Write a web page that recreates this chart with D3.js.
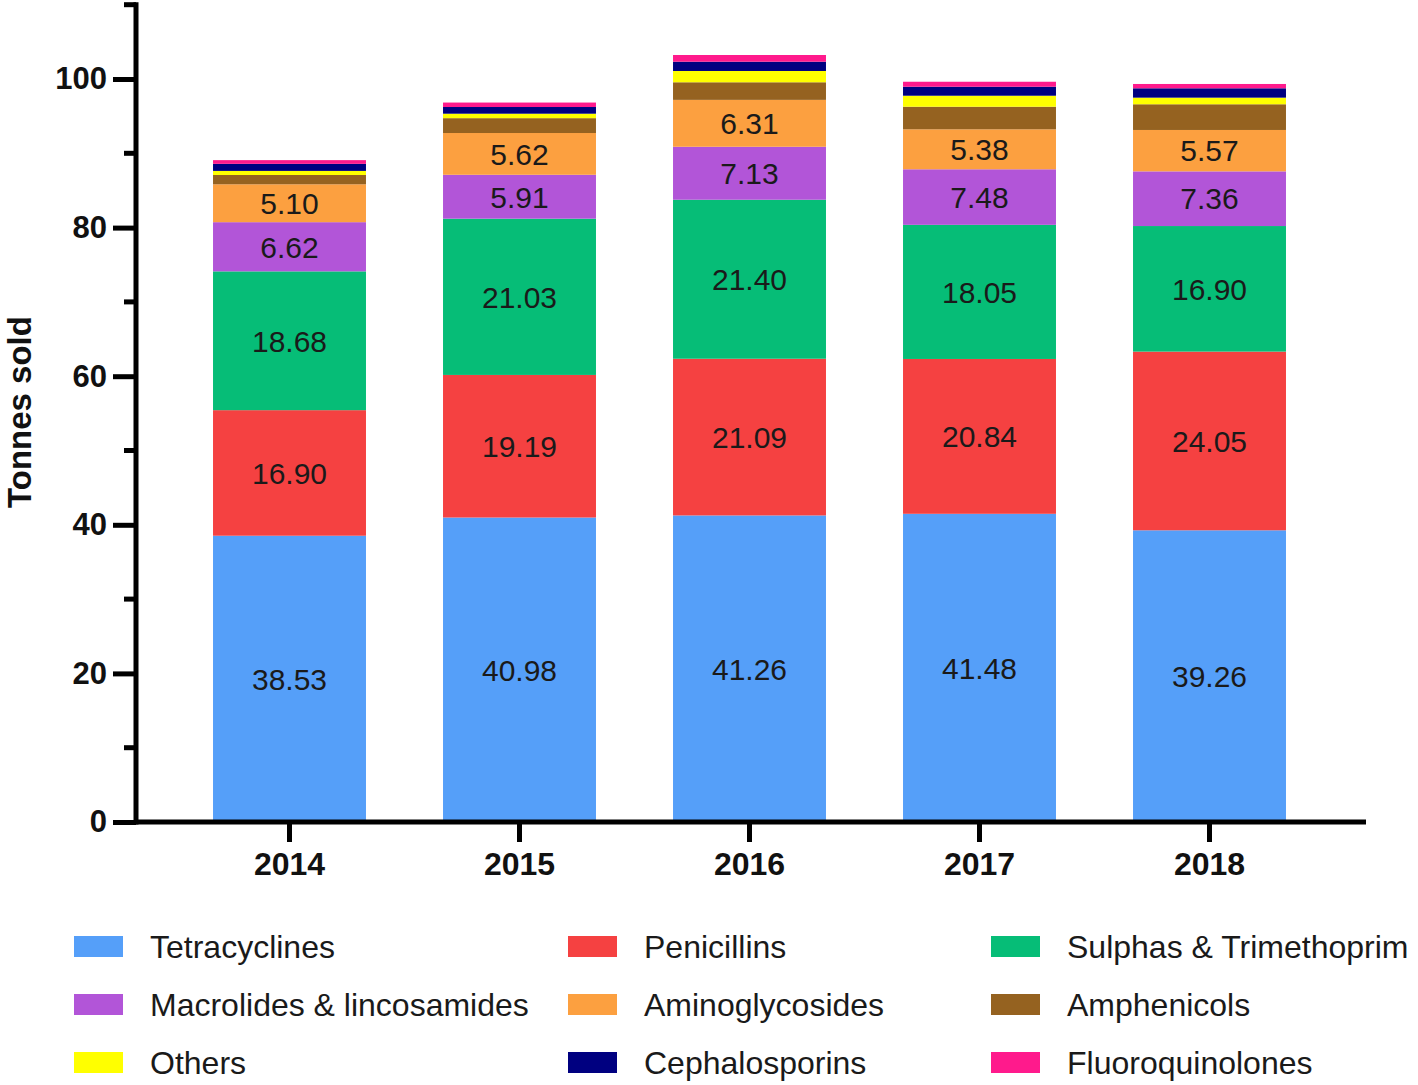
<!DOCTYPE html>
<html><head><meta charset="utf-8">
<script src="https://cdn.jsdelivr.net/npm/d3@7"></script>
<style>body{margin:0;background:#fff;font-family:Arial,"Liberation Sans",sans-serif;}</style>
</head><body>
<svg id="c" width="1418" height="1085"></svg>
<script>
const years = ["2014","2015","2016","2017","2018"];
const seriesNames = ["Tetracyclines","Penicillins","Sulphas & Trimethoprim","Macrolides & lincosamides","Aminoglycosides","Amphenicols","Others","Cephalosporins","Fluoroquinolones"];
const colors = ["#559ff9","#f54141","#06bd77","#b255d8","#fca040","#956220","#ffff00","#000080","#ff1a8c"];
const tetracyclines = [38.53,40.98,41.26,41.48,39.26];
const penicillins = [16.90,19.19,21.09,20.84,24.05];
const sulphas = [18.68,21.03,21.40,18.05,16.90];
const macrolides = [6.62,5.91,7.13,7.48,7.36];
const aminoglycosides = [5.10,5.62,6.31,5.38,5.57];
const amphenicols = [1.25,2.0,2.37,3.04,3.46];
const others = [0.55,0.6,1.52,1.48,0.89];
const cephalosporins = [0.95,0.9,1.25,1.21,1.26];
const fluoroquinolones = [0.5,0.6,0.9,0.67,0.58];
const labeled = [true,true,true,true,true,false,false,false,false];
const yMajor = [0,20,40,60,80,100];
const yMinor = [10,30,50,70,90,110];

const FONT = "Arial,'Liberation Sans',sans-serif";
const allSeries = [tetracyclines,penicillins,sulphas,macrolides,aminoglycosides,amphenicols,others,cephalosporins,fluoroquinolones];
const svg = d3.select("#c").attr("font-family",FONT);
const x = d3.scaleBand().domain(years).range([174.5,1324.5]).paddingInner(0.335).paddingOuter(0.1675);
const y = d3.scaleLinear().domain([0,110]).range([822,4.7]);

const rows = years.map((yr,i)=>{const o={year:yr}; seriesNames.forEach((s,j)=>o[s]=allSeries[j][i]); return o;});
const stack = d3.stack().keys(seriesNames)(rows);

const g = svg.append("g");
stack.forEach((layer,j)=>{
  g.selectAll(null).data(layer).join("rect")
    .attr("x",d=>x(d.data.year)).attr("width",x.bandwidth())
    .attr("y",d=>y(d[1])).attr("height",d=>y(d[0])-y(d[1]))
    .attr("fill",colors[j]);
});
stack.forEach((layer,j)=>{
  if(labeled[j]){
    g.selectAll(null).data(layer).join("text")
      .attr("x",d=>x(d.data.year)+x.bandwidth()/2)
      .attr("y",d=>(y(d[0])+y(d[1]))/2)
      .attr("dy","0.36em").attr("text-anchor","middle")
      .attr("font-size",30).attr("fill","#1a1a1a")
      .text(d=>(d[1]-d[0]).toFixed(2));
  }
});

// y axis
const ya = svg.append("g").attr("transform","translate(136,0)");
ya.call(d3.axisLeft(y).tickValues(yMajor).tickSize(23).tickPadding(6).tickFormat(d3.format("d")));
ya.selectAll(".tick line").attr("stroke","#000").attr("stroke-width",5);
ya.selectAll(".tick text").attr("font-size",31).attr("font-weight","bold").attr("fill","#111").attr("font-family",FONT);
ya.select(".domain").remove();
ya.selectAll(".minor").data(yMinor).join("line").attr("class","minor")
  .attr("x1",-12).attr("x2",0).attr("y1",d=>y(d)).attr("y2",d=>y(d)).attr("stroke","#000").attr("stroke-width",5);
ya.append("line").attr("x1",0).attr("x2",0).attr("y1",y(110)-2.5).attr("y2",y(0)+2.5).attr("stroke","#000").attr("stroke-width",5);

// x axis
const xa = svg.append("g").attr("transform","translate(0,822)");
xa.call(d3.axisBottom(x).tickSize(20).tickPadding(10));
xa.select(".domain").remove();
xa.append("line").attr("x1",134).attr("x2",1366).attr("y1",0).attr("y2",0).attr("stroke","#000").attr("stroke-width",5);
xa.selectAll(".tick line").attr("stroke","#000").attr("stroke-width",5);
xa.selectAll(".tick text").attr("font-size",32).attr("font-weight","bold").attr("fill","#111").attr("font-family",FONT);

// y title
svg.append("text").attr("transform","translate(31,412) rotate(-90)").attr("text-anchor","middle")
  .attr("font-size",33).attr("font-weight","bold").attr("fill","#111").text("Tonnes sold");

// legend
const colX = [74,568,991];
const rowY = [946,1004,1062];
seriesNames.forEach((s,i)=>{
  const cx = colX[i%3], cy = rowY[Math.floor(i/3)];
  svg.append("rect").attr("x",cx).attr("y",cy-10).attr("width",49).attr("height",21).attr("fill",colors[i]);
  svg.append("text").attr("x",cx+76).attr("y",cy).attr("dy","0.36em").attr("font-size",32).attr("fill","#1a1a1a").text(s);
});
</script>
</body></html>
